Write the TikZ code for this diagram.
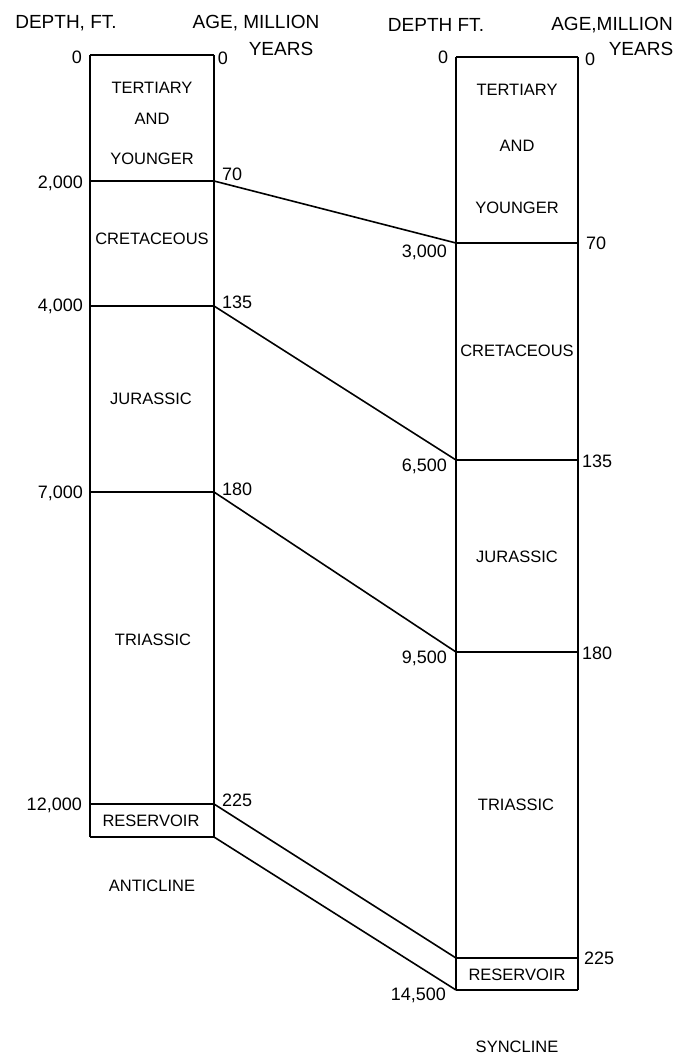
\documentclass[tikz,border=0pt]{standalone}
\usepackage{fontspec}
\setmainfont{Liberation Sans}
\begin{document}
\begin{tikzpicture}[x=1pt,y=-1pt,
  frame/.style={line width=1.3pt},
  bound/.style={line width=1.8pt},
  corr/.style={line width=1.6pt},
  lab/.style={font=\fontsize{16.5}{18}\selectfont, inner sep=0pt},
  num/.style={font=\fontsize{18}{20}\selectfont, inner sep=0pt},
  head/.style={font=\fontsize{19}{21}\selectfont, inner sep=0pt}]
\useasboundingbox (0,0) rectangle (688,1057);
% anticline column corners
\coordinate (aL0) at (90,55);  \coordinate (aR0) at (214,55);
\coordinate (aL1) at (90,181); \coordinate (aR1) at (214,181);
\coordinate (aL2) at (90,306); \coordinate (aR2) at (214,306);
\coordinate (aL3) at (90,492); \coordinate (aR3) at (214,492);
\coordinate (aL4) at (90,804); \coordinate (aR4) at (214,804);
\coordinate (aL5) at (90,837); \coordinate (aR5) at (214,837);
% syncline column corners
\coordinate (sL0) at (456,57);  \coordinate (sR0) at (578,57);
\coordinate (sL1) at (456,243); \coordinate (sR1) at (578,243);
\coordinate (sL2) at (456,460); \coordinate (sR2) at (578,460);
\coordinate (sL3) at (456,652); \coordinate (sR3) at (578,652);
\coordinate (sL4) at (456,958); \coordinate (sR4) at (578,958);
\coordinate (sL5) at (456,990); \coordinate (sR5) at (578,990);
% frames
\draw[frame] (aL0) -- (aL5) (aR0) -- (aR5);
\draw[frame] (sL0) -- (sL5) (sR0) -- (sR5);
\foreach \i in {0,...,5}{
  \draw[bound] (aL\i) -- (aR\i);
  \draw[bound] (sL\i) -- (sR\i);
}
% correlation lines
\foreach \i in {1,...,5}{
  \draw[corr] (aR\i) -- (sL\i);
}
% headers
\node[head] (h1) at (66,23) {DEPTH, FT.};
\node[head] (h2) at (256,23) {AGE, MILLION};
\node[head] (h3) at (281,49) {YEARS};
\node[head] (h4) at (436,25) {DEPTH FT.};
\node[head] (h5) at (612,25) {AGE,MILLION};
\node[head] (h6) at (641,49) {YEARS};
% anticline depths
\node[num] (ad0) at (77,57) {0};
\node[num,anchor=east] (ad1) at (83,183) {2,000};
\node[num,anchor=east] (ad2) at (83,306) {4,000};
\node[num,anchor=east] (ad3) at (83,493) {7,000};
\node[num,anchor=east] (ad4) at (82,805) {12,000};
% anticline ages
\node[num] (aa0) at (223,58) {0};
\node[num,anchor=west] (aa1) at (222,174) {70};
\node[num,anchor=west] (aa2) at (222,302) {135};
\node[num,anchor=west] (aa3) at (222,489) {180};
\node[num,anchor=west] (aa4) at (222,800) {225};
% syncline depths
\node[num] (sd0) at (443,57) {0};
\node[num,anchor=east] (sd1) at (447,252) {3,000};
\node[num,anchor=east] (sd2) at (447,466) {6,500};
\node[num,anchor=east] (sd3) at (447,658) {9,500};
\node[num,anchor=east] (sd4) at (446,995) {14,500};
% syncline ages
\node[num] (sa0) at (590,59) {0};
\node[num,anchor=west] (sa1) at (586,243) {70};
\node[num,anchor=west] (sa2) at (582,461) {135};
\node[num,anchor=west] (sa3) at (582,653) {180};
\node[num,anchor=west] (sa4) at (584,958) {225};
% anticline layers
\node[lab] (at1) at (152,88) {TERTIARY};
\node[lab] (at2) at (152,119) {AND};
\node[lab] (at3) at (152,159) {YOUNGER};
\node[lab] (ac) at (152,239) {CRETACEOUS};
\node[lab] (aj) at (151,399) {JURASSIC};
\node[lab] (atr) at (153,640) {TRIASSIC};
\node[lab] (ar) at (151,821) {RESERVOIR};
\node[lab] (an) at (152,886) {ANTICLINE};
% syncline layers
\node[lab] (st1) at (517,90) {TERTIARY};
\node[lab] (st2) at (517,146) {AND};
\node[lab] (st3) at (517,208) {YOUNGER};
\node[lab] (sc) at (517,351) {CRETACEOUS};
\node[lab] (sj) at (517,557) {JURASSIC};
\node[lab] (str) at (516,805) {TRIASSIC};
\node[lab] (sr) at (517,975) {RESERVOIR};
\node[lab] (sn) at (517,1047) {SYNCLINE};
\end{tikzpicture}
\end{document}
